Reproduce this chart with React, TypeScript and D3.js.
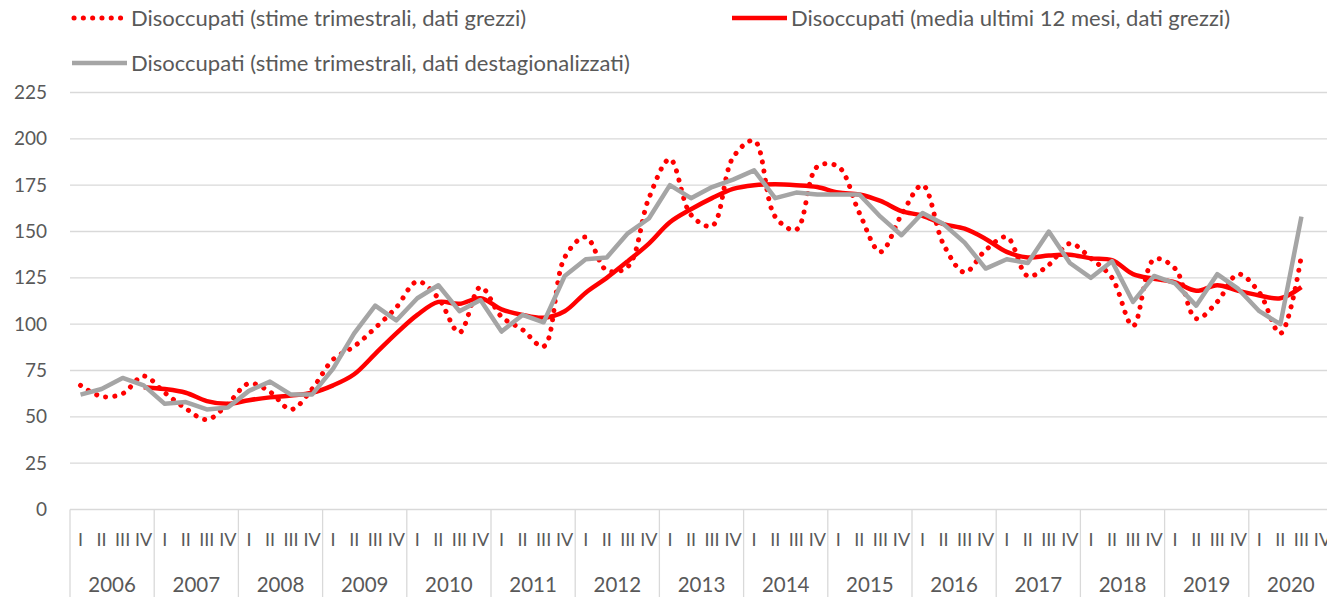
import React, { useEffect, useRef } from "react";
import * as d3 from "d3";

// categorie: anni e trimestri
const years = ["2006", "2007", "2008", "2009", "2010", "2011", "2012", "2013", "2014", "2015", "2016", "2017", "2018", "2019", "2020"];
const quarters = ["I", "II", "III", "IV"];

// disoccupati, stime trimestrali, dati grezzi (2006 I - 2020 III)
const rawQuarterly = [
    67, 61, 62.5, 72,
    63, 54.5, 48.5, 57,
    68, 63.5, 54, 65,
    81, 88, 98, 109,
    123, 114, 95.5, 120,
    104, 97, 88, 136,
    147, 129, 131, 168,
    189, 159, 153, 190,
    199, 158, 151, 185,
    185, 160, 139, 159,
    175, 143, 128, 140,
    147, 126, 132, 143.5,
    135.5, 125, 99, 135,
    130, 103, 112, 127,
    117, 95, 137,
];

// media ultimi 12 mesi, dati grezzi (da 2006 IV)
const movingAvgStart = 3;
const movingAvg = [
    66,
    65, 63, 58.5, 57,
    59, 60.5, 61.5, 63,
    67, 73, 84, 95,
    105, 112, 111, 114,
    108, 105, 103.5, 107,
    117, 125, 134, 143.5,
    155, 162, 168, 173,
    175, 175.5, 175, 174,
    171, 170, 166.5, 161,
    158.5, 154, 151.5, 146,
    139, 136, 137, 137.5,
    135.5, 134.5, 127, 124.5,
    122.5, 118, 121, 118,
    115.5, 114, 120,
];

// stime trimestrali, dati destagionalizzati
const seasonAdj = [
    62, 65, 71, 67,
    57, 58, 54, 55,
    64, 69, 62, 62,
    76, 95, 110, 102,
    114, 121, 107, 113,
    96, 105, 101, 126,
    135, 136, 149, 157,
    175, 168, 174, 178,
    183, 168, 171, 170,
    170, 170, 158, 148,
    160, 154, 144, 130,
    135, 133, 150, 133,
    125, 134, 112, 126,
    122, 110, 127, 119,
    107, 100, 158,
];

const yTicks = [0, 25, 50, 75, 100, 125, 150, 175, 200, 225];

const labelRaw = "Disoccupati (stime trimestrali, dati grezzi)";
const labelAvg = "Disoccupati (media ultimi 12 mesi, dati grezzi)";
const labelAdj = "Disoccupati (stime trimestrali, dati destagionalizzati)";

const width = 1327;
const height = 597;
const font = "Lato, 'Open Sans', sans-serif";
const textColor = "#595959";

const UnemploymentChart = () => {
    const chartRef = useRef(null);

    useEffect(() => {
        const root = d3.select(chartRef.current);
        root.selectAll("*").remove();

        const svg = root
            .append("svg")
            .attr("width", width)
            .attr("height", height)
            .style("display", "block")
            .style("background", "#fff");

        const x = d3.scaleLinear().domain([0, years.length * 4]).range([70, 1333]);
        const y = d3.scaleLinear().domain([0, 225]).range([509.5, 92.5]);
        const xq = (i) => x(i + 0.5);

        // griglia orizzontale
        svg.append("g")
            .selectAll("line")
            .data(yTicks)
            .enter()
            .append("line")
            .attr("x1", 70)
            .attr("x2", width)
            .attr("y1", (d) => y(d))
            .attr("y2", (d) => y(d))
            .attr("stroke", "#d9d9d9")
            .attr("stroke-width", 1.3);

        svg.append("g")
            .selectAll("text")
            .data(yTicks)
            .enter()
            .append("text")
            .attr("x", 47)
            .attr("y", (d) => y(d))
            .attr("dy", "0.35em")
            .attr("text-anchor", "end")
            .attr("fill", textColor)
            .style("font-family", font)
            .style("font-size", "19px")
            .text((d) => d);

        // asse categorie a due livelli
        const cat = svg.append("g");
        years.forEach((yr, k) => {
            cat.append("line")
                .attr("x1", x(k * 4))
                .attr("x2", x(k * 4))
                .attr("y1", y(0))
                .attr("y2", height)
                .attr("stroke", "#d9d9d9")
                .attr("stroke-width", 1.3);
            quarters.forEach((q, j) => {
                cat.append("text")
                    .attr("x", xq(k * 4 + j))
                    .attr("y", 540)
                    .attr("dy", "0.35em")
                    .attr("text-anchor", "middle")
                    .attr("fill", textColor)
                    .style("font-family", font)
                    .style("font-size", "18px")
                    .text(q);
            });
            cat.append("text")
                .attr("x", x(k * 4 + 2))
                .attr("y", 585)
                .attr("dy", "0.35em")
                .attr("text-anchor", "middle")
                .attr("fill", textColor)
                .style("font-family", font)
                .style("font-size", "20.5px")
                .text(yr);
        });

        // serie
        const smooth = d3
            .line()
            .x((d) => xq(d[0]))
            .y((d) => y(d[1]))
            .curve(d3.curveCatmullRom.alpha(0.5));
        const straight = d3
            .line()
            .x((d) => xq(d[0]))
            .y((d) => y(d[1]));

        svg.append("path")
            .attr("d", smooth(rawQuarterly.map((v, i) => [i, v])))
            .attr("fill", "none")
            .attr("stroke", "#ff0000")
            .attr("stroke-width", 5)
            .attr("stroke-linecap", "round")
            .attr("stroke-dasharray", "0.1 9.2");

        svg.append("path")
            .attr("d", smooth(movingAvg.map((v, i) => [i + movingAvgStart, v])))
            .attr("fill", "none")
            .attr("stroke", "#ff0000")
            .attr("stroke-width", 4.5)
            .attr("stroke-linejoin", "round");

        svg.append("path")
            .attr("d", straight(seasonAdj.map((v, i) => [i, v])))
            .attr("fill", "none")
            .attr("stroke", "#a5a5a5")
            .attr("stroke-width", 4.5)
            .attr("stroke-linejoin", "round");

        // legenda
        const legend = [
            { label: labelRaw, x: 72, y: 18, color: "#ff0000", dash: "0.1 9.2", cap: "round" },
            { label: labelAvg, x: 732, y: 18, color: "#ff0000", dash: null, cap: "butt" },
            { label: labelAdj, x: 72, y: 63, color: "#a5a5a5", dash: null, cap: "butt" },
        ];
        const item = svg
            .append("g")
            .selectAll("g")
            .data(legend)
            .enter()
            .append("g")
            .attr("transform", (d) => `translate(${d.x},${d.y})`);

        item.append("line")
            .attr("x1", (d) => (d.dash ? 2 : 0))
            .attr("x2", 55)
            .attr("stroke", (d) => d.color)
            .attr("stroke-width", (d) => (d.dash ? 5 : 4.5))
            .attr("stroke-linecap", (d) => d.cap)
            .attr("stroke-dasharray", (d) => d.dash);

        item.append("text")
            .attr("x", 59)
            .attr("dy", "0.35em")
            .attr("fill", textColor)
            .style("font-family", font)
            .style("font-size", "22px")
            .text((d) => d.label);
    }, []);

    return (
        <div style={{ position: "absolute", left: 0, top: 0, width: width, height: height, overflow: "hidden" }}>
            <div ref={chartRef}></div>
        </div>
    );
};

export default function App() {
    return <UnemploymentChart />;
}
